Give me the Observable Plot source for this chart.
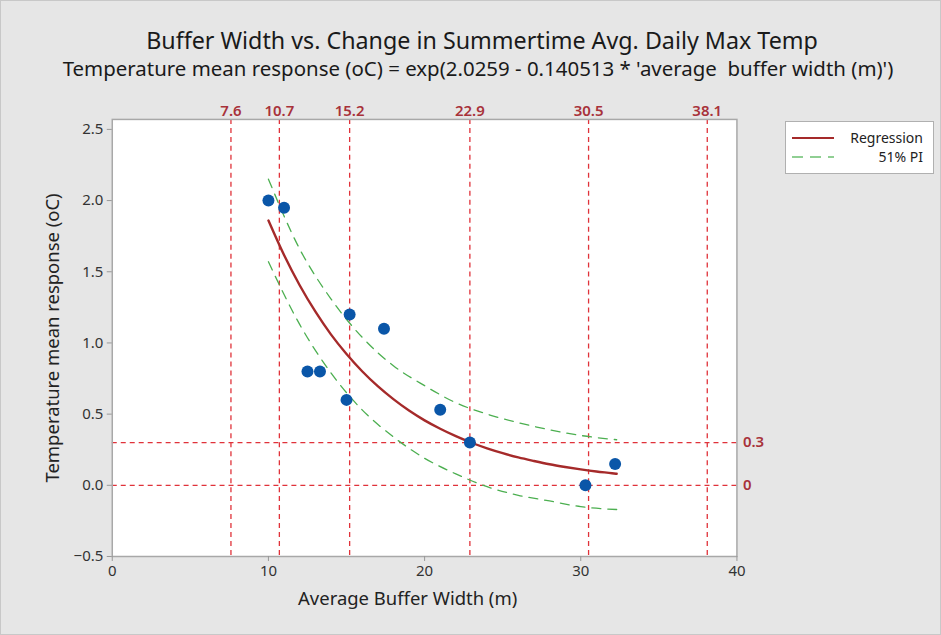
<!DOCTYPE html>
<html><head><meta charset="utf-8">
<script src="https://cdn.jsdelivr.net/npm/d3@7"></script>
<script src="https://cdn.jsdelivr.net/npm/@observablehq/plot@0.6"></script>
<style>
html,body{margin:0;padding:0;background:#e6e6e6;}
#wrap{position:relative;width:939px;height:633px;border:1px solid #c8c8c8;background:#e6e6e6;font-family:"Noto Sans",sans-serif;overflow:hidden;}
.ttl{position:absolute;white-space:pre;color:#1a1a1a;transform:translate(-50%,-50%);line-height:1;}
#chart{position:absolute;left:0;top:84px;}
#legend{position:absolute;left:784px;top:120px;width:147px;height:51px;background:#fff;border:1px solid #b0b0b0;}
</style></head>
<body><div id="wrap">
<div id="title" class="ttl">Buffer Width vs. Change in Summertime Avg. Daily Max Temp</div>
<div id="subtitle" class="ttl">Temperature mean response (oC) = exp(2.0259 - 0.140513 * 'average  buffer width (m)')</div>
<div id="chart"></div>
<div id="legend">
<svg width="147" height="51" style="position:absolute;left:0;top:0">
<line x1="6" y1="16" x2="48" y2="16" stroke="#a52a2a" stroke-width="2.2"/>
<line x1="6" y1="35" x2="48" y2="35" stroke="#6cc070" stroke-width="1.6" stroke-dasharray="11,7"/>
<text x="137" y="21" text-anchor="end" font-size="14" fill="#222" font-family="Noto Sans">Regression</text>
<text x="137" y="40" text-anchor="end" font-size="14" fill="#222" font-family="Noto Sans">51% PI</text>
</svg>
</div>
</div>
<script>
// observed points
const bufferWidth = [10.0, 11.0, 12.5, 13.3, 15.0, 15.2, 17.4, 21.0, 22.9, 30.3, 32.2];
const tempResponse = [2.00, 1.95, 0.80, 0.80, 0.60, 1.20, 1.10, 0.53, 0.30, 0.00, 0.15];
// fitted curve
const fitX = [10, 11, 12, 13, 14, 15, 16, 17, 18, 19, 20, 21, 22, 23, 24, 25, 26, 27, 28, 29, 30, 31, 32, 32.3];
const fitY = [1.860, 1.617, 1.405, 1.221, 1.060, 0.922, 0.801, 0.696, 0.605, 0.525, 0.456, 0.397, 0.345, 0.299, 0.260, 0.226, 0.196, 0.171, 0.148, 0.129, 0.112, 0.097, 0.085, 0.081];
// 51% prediction interval
const piX = [10, 12, 14, 16, 18, 20, 22, 24, 26, 28, 30, 32.3];
const piUpper = [2.15, 1.66, 1.31, 1.04, 0.84, 0.70, 0.58, 0.50, 0.44, 0.39, 0.35, 0.32];
const piLower = [1.57, 1.13, 0.79, 0.53, 0.34, 0.19, 0.08, -0.01, -0.07, -0.11, -0.15, -0.17];
// reference lines
const refX = [7.6, 10.7, 15.2, 22.9, 30.5, 38.1];
const refXLabels = ["7.6", "10.7", "15.2", "22.9", "30.5", "38.1"];
const refY = [0.3, 0];
const refYLabels = ["0.3", "0"];
const xTicks = [0, 10, 20, 30, 40];
const yTicks = [-0.5, 0, 0.5, 1.0, 1.5, 2.0, 2.5];

// fit the title lines to the reference widths
const ctx = document.createElement("canvas").getContext("2d");
function place(id, cx, cy, target, weight) {
  const el = document.getElementById(id);
  ctx.font = `${weight} 20px "Noto Sans"`;
  const w = ctx.measureText(el.textContent).width;
  el.style.fontSize = (20 * target / w) + "px";
  el.style.fontWeight = weight;
  el.style.left = cx + "px";
  el.style.top = cy + "px";
}
place("title", 481, 40, 672, 400);
place("subtitle", 477, 67, 831, 400);

const points = bufferWidth.map((x, i) => ({x, y: tempResponse[i]}));
const fit = fitX.map((x, i) => ({x, y: fitY[i]}));
const up = piX.map((x, i) => ({x, y: piUpper[i]}));
const lo = piX.map((x, i) => ({x, y: piLower[i]}));
const rx = refX.map((x, i) => ({x, label: refXLabels[i]}));
const ry = refY.map((y, i) => ({y, label: refYLabels[i]}));

const refColor = "#e0323a";
const labColor = "#a8323a";

const chart = Plot.plot({
  width: 941,
  height: 550,
  marginLeft: 111,
  marginRight: 204,
  marginTop: 34,
  marginBottom: 78,
  style: {background: "transparent", fontFamily: "Noto Sans, sans-serif", fontSize: "14px", color: "#333", overflow: "visible"},
  x: {domain: [0, 40]},
  y: {domain: [-0.5, 2.57]},
  marks: [
    Plot.frame({fill: "#fff", stroke: "none"}),
    Plot.ruleX(rx, {x: "x", stroke: refColor, strokeWidth: 1.3, strokeDasharray: "5,4"}),
    Plot.ruleY(ry, {y: "y", stroke: refColor, strokeWidth: 1.3, strokeDasharray: "5,4"}),
    Plot.line(up, {x: "x", y: "y", curve: "monotone-x", stroke: "#4caf50", strokeWidth: 1.3, strokeDasharray: "9,7"}),
    Plot.line(lo, {x: "x", y: "y", curve: "monotone-x", stroke: "#4caf50", strokeWidth: 1.3, strokeDasharray: "9,7"}),
    Plot.line(fit, {x: "x", y: "y", curve: "monotone-x", stroke: "#a52a2a", strokeWidth: 2.4}),
    Plot.dot(points, {x: "x", y: "y", r: 6, fill: "#0a56a8", stroke: "none"}),
    Plot.frame({stroke: "#a8a8a8", strokeWidth: 1.5}),
    Plot.text(rx, {x: "x", text: "label", frameAnchor: "top", dy: -14, fill: labColor, fontSize: 15, fontWeight: 600}),
    Plot.text(ry, {y: "y", text: "label", frameAnchor: "right", dx: 6, textAnchor: "start", fill: labColor, fontSize: 15, fontWeight: 600}),
    Plot.axisX({ticks: xTicks, tickFormat: d => String(d), tickSize: 5, stroke: "#999", fontSize: 15, fill: "#333", label: null, tickPadding: 4}),
    Plot.axisY({ticks: yTicks, tickFormat: d3.format(".1f"), tickSize: 5, stroke: "#999", fontSize: 15, fill: "#333", label: null, tickPadding: 4}),
    Plot.text(["Average Buffer Width (m)"], {frameAnchor: "bottom", dx: -17, dy: 49, fontSize: 18.5, fill: "#222"}),
    Plot.text(["Temperature mean response (oC)"], {frameAnchor: "left", dx: -59, rotate: -90, textAnchor: "middle", fontSize: 18.5, fill: "#222"})
  ]
});
document.getElementById("chart").appendChild(chart);
</script>
</body></html>
